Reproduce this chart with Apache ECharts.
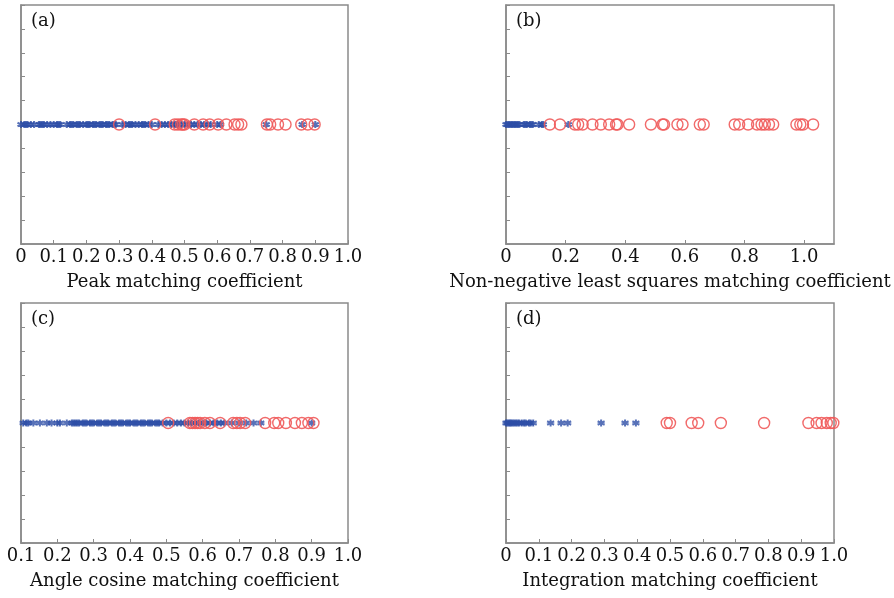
<!DOCTYPE html>
<html>
<head>
<meta charset="utf-8">
<script src="https://cdn.jsdelivr.net/npm/echarts@6/dist/echarts.min.js"></script>
<style>html,body{margin:0;padding:0;background:#fff;}#c{width:894px;height:598px;}</style>
</head>
<body>
<div id="c"></div>
<script>
// Panel (a) Peak matching coefficient
const blueA = [0.00,0.01,0.015,0.02,0.03,0.04,0.055,0.06,0.065,0.07,0.08,0.09,0.10,0.11,0.115,0.12,0.14,0.15,0.155,0.16,0.17,0.175,0.18,0.19,0.20,0.205,0.21,0.22,0.225,0.23,0.24,0.245,0.25,0.26,0.265,0.27,0.28,0.285,0.29,0.31,0.32,0.33,0.335,0.34,0.35,0.36,0.37,0.375,0.38,0.39,0.40,0.42,0.43,0.44,0.45,0.46,0.47,0.475,0.48,0.49,0.50,0.51,0.52,0.53,0.54,0.55,0.56,0.57,0.58,0.60,0.61,0.75,0.86,0.90];
const redA = [0.30,0.41,0.47,0.48,0.49,0.495,0.50,0.53,0.557,0.577,0.603,0.628,0.653,0.664,0.674,0.752,0.762,0.786,0.809,0.857,0.877,0.898];
// Panel (b) Non-negative least squares matching coefficient
const blueB = [0.00,0.005,0.01,0.015,0.02,0.025,0.03,0.035,0.04,0.045,0.06,0.065,0.07,0.08,0.085,0.09,0.11,0.12,0.125,0.209];
const redB = [0.147,0.181,0.231,0.242,0.257,0.29,0.318,0.346,0.369,0.374,0.413,0.486,0.525,0.53,0.575,0.592,0.65,0.663,0.767,0.782,0.812,0.842,0.857,0.868,0.882,0.896,0.974,0.987,0.996,1.03];
// Panel (c) Angle cosine matching coefficient
const blueC = [0.106,0.115,0.12,0.134,0.152,0.171,0.184,0.2,0.207,0.226,0.24,0.245,0.25,0.255,0.26,0.27,0.275,0.28,0.29,0.295,0.30,0.31,0.315,0.32,0.33,0.335,0.34,0.35,0.355,0.36,0.37,0.375,0.38,0.39,0.395,0.40,0.41,0.415,0.42,0.43,0.435,0.44,0.45,0.455,0.46,0.47,0.475,0.48,0.49,0.50,0.51,0.52,0.53,0.54,0.55,0.56,0.57,0.58,0.59,0.60,0.61,0.62,0.63,0.64,0.65,0.66,0.68,0.70,0.72,0.74,0.76,0.90];
const redC = [0.505,0.565,0.572,0.579,0.586,0.593,0.606,0.62,0.648,0.684,0.694,0.703,0.717,0.772,0.797,0.808,0.829,0.854,0.873,0.891,0.905];
// Panel (d) Integration matching coefficient
const blueD = [0.0,0.004,0.008,0.012,0.016,0.02,0.025,0.03,0.035,0.04,0.048,0.055,0.06,0.07,0.075,0.083,0.136,0.168,0.188,0.29,0.363,0.396];
const redD = [0.49,0.50,0.566,0.586,0.655,0.787,0.922,0.947,0.962,0.978,0.99,0.998];

const panelLabels = ['(a)','(b)','(c)','(d)'];
const axisNames = ['Peak matching coefficient','Non-negative least squares matching coefficient','Angle cosine matching coefficient','Integration matching coefficient'];
const xMins = [0, 0, 0.1, 0];
const xMaxs = [1.0, 1.1, 1.0, 1.0];
const xIntervals = [0.1, 0.2, 0.1, 0.1];
const stripLevel = 0.5;

const FONT = 'DejaVu Serif';
const gridGray = '#8a8a8a';
const blue = '#2d4ea6';
const red = '#f05a5a';

const grids = [
  {left: 21, top: 5, width: 327, height: 239},
  {left: 506, top: 5, width: 328, height: 239},
  {left: 21, top: 303, width: 327, height: 240},
  {left: 506, top: 303, width: 328, height: 240}
].map(g => Object.assign({show: true, borderColor: gridGray, borderWidth: 1.5, backgroundColor: '#fff'}, g));

const fmt = v => Math.abs(v) < 1e-9 ? '0' : v.toFixed(1);

const xAxes = [0,1,2,3].map(i => ({
  type: 'value', gridIndex: i, min: xMins[i], max: xMaxs[i], interval: xIntervals[i],
  axisLine: {show: true, lineStyle: {color: gridGray, width: 1.5}},
  axisTick: {show: true, inside: true, length: 4, lineStyle: {color: gridGray}},
  axisLabel: {show: true, formatter: fmt, color: '#111', fontFamily: FONT, fontSize: 18, margin: 4, showMaxLabel: i !== 1},
  splitLine: {show: false},
  name: axisNames[i], nameLocation: 'middle', nameGap: 29,
  nameTextStyle: {color: '#111', fontFamily: FONT, fontSize: 18}
}));

const yAxes = [0,1,2,3].map(i => ({
  type: 'value', gridIndex: i, min: 0, max: 1, interval: 0.1,
  axisLine: {show: true, lineStyle: {color: gridGray, width: 1.5}},
  axisTick: {show: true, inside: true, length: 4, lineStyle: {color: gridGray}},
  axisLabel: {show: false},
  splitLine: {show: false}
}));

const asterisk = 'path://M0,-5L0,5M-4.33,-2.5L4.33,2.5M-4.33,2.5L4.33,-2.5';
const blues = [blueA, blueB, blueC, blueD];
const reds = [redA, redB, redC, redD];

const series = [];
for (let i = 0; i < 4; i++) {
  series.push({
    type: 'scatter', xAxisIndex: i, yAxisIndex: i, silent: true,
    symbol: asterisk, symbolSize: 7,
    itemStyle: {color: 'rgba(0,0,0,0)', borderColor: blue, borderWidth: 2},
    data: blues[i].map(v => [v, stripLevel]), z: 2
  });
  series.push({
    type: 'scatter', xAxisIndex: i, yAxisIndex: i, silent: true,
    symbol: 'circle', symbolSize: 11,
    itemStyle: {color: 'rgba(0,0,0,0)', borderColor: red, borderWidth: 1.4, opacity: 0.9},
    data: reds[i].map(v => [v, stripLevel]), z: 3
  });
}

const graphic = panelLabels.map((t, i) => ({
  type: 'text', left: (i % 2 === 0 ? 31 : 516), top: (i < 2 ? 12 : 310),
  style: {text: t, font: '18px "' + FONT + '"', fill: '#111'}
}));

const chart = echarts.init(document.getElementById('c'), null, {renderer: 'canvas'});
chart.setOption({
  animation: false,
  backgroundColor: '#fff',
  grid: grids, xAxis: xAxes, yAxis: yAxes, series: series, graphic: graphic
});
</script>
</body>
</html>
